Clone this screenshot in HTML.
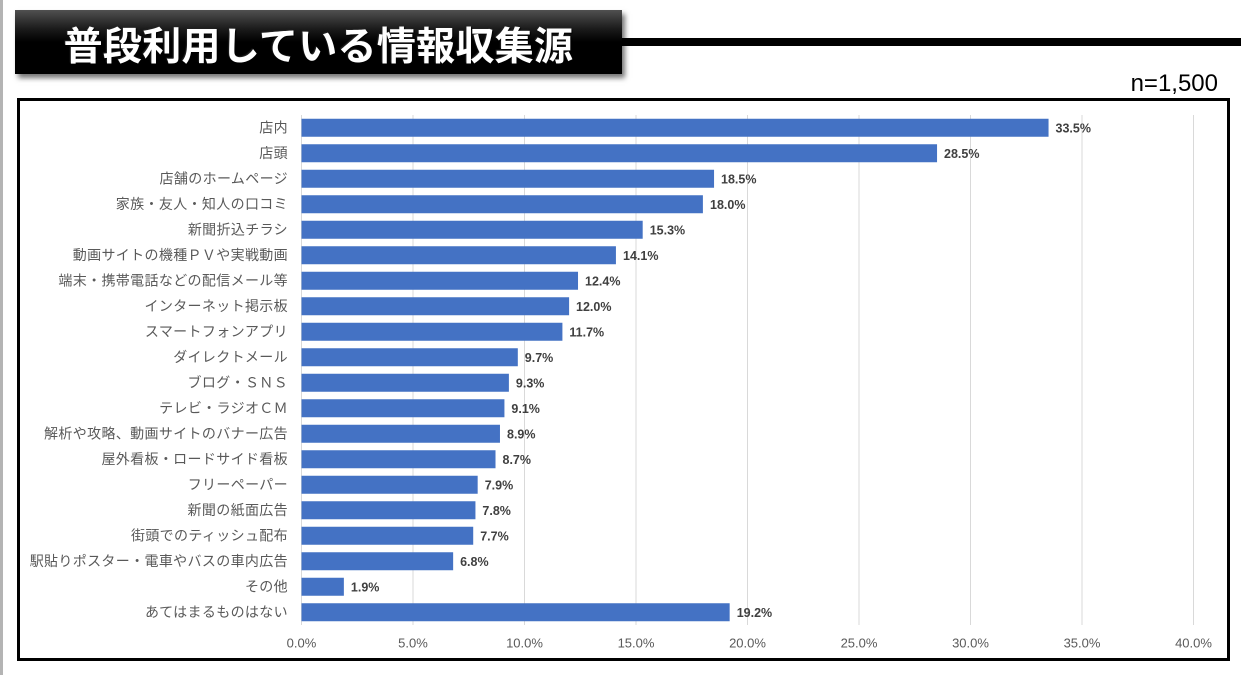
<!DOCTYPE html>
<html>
<head>
<meta charset="utf-8">
<style>
html,body{margin:0;padding:0;background:#fff;}
body{width:1241px;height:675px;position:relative;overflow:hidden;font-family:"Liberation Sans","Noto Sans CJK JP",sans-serif;}
.lbar{position:absolute;left:0;top:0;width:3px;height:675px;background:#b4b4b4;}
.title{position:absolute;left:15px;top:10px;width:607px;height:64px;
background:linear-gradient(to bottom,#505050 0%,#1a1a1a 30%,#000 50%,#000 100%);
box-shadow:3px 4px 5px rgba(0,0,0,0.55);
display:flex;align-items:center;justify-content:center;}
.title span{color:#fff;font-family:"Noto Sans CJK JP","Liberation Sans",sans-serif;font-weight:700;font-size:39px;letter-spacing:0.3px;line-height:1;margin-top:4px;
text-shadow:1px 1px 1px #000,-1px -1px 1px #222;}
.hline{position:absolute;left:622px;top:38px;width:619px;height:8px;background:#000;}
.n{position:absolute;right:23px;top:70px;font-size:24px;color:#000;font-family:"Liberation Sans",sans-serif;}
.frame{position:absolute;left:17px;top:98px;width:1207px;height:557px;border:3px solid #000;background:#fff;}
svg{position:absolute;left:0;top:0;}
.cat{font-family:"Liberation Sans","Noto Sans CJK JP",sans-serif;font-size:14px;fill:#595959;letter-spacing:0.35px;}
.val{font-family:"Liberation Sans",sans-serif;font-size:12.5px;font-weight:bold;fill:#404040;}
.tick{font-family:"Liberation Sans",sans-serif;font-size:13px;fill:#595959;}
</style>
</head>
<body>
<div class="lbar"></div>
<div class="title"><span>普段利用している情報収集源</span></div>
<div class="hline"></div>
<div class="n">n=1,500</div>
<div class="frame"></div>
<svg width="1241" height="675" viewBox="0 0 1241 675">
<g stroke="#d9d9d9" stroke-width="1">
<line x1="301.5" y1="115" x2="301.5" y2="625"/>
<line x1="413" y1="115" x2="413" y2="625"/>
<line x1="524.5" y1="115" x2="524.5" y2="625"/>
<line x1="636" y1="115" x2="636" y2="625"/>
<line x1="747.5" y1="115" x2="747.5" y2="625"/>
<line x1="859" y1="115" x2="859" y2="625"/>
<line x1="970.5" y1="115" x2="970.5" y2="625"/>
<line x1="1082" y1="115" x2="1082" y2="625"/>
<line x1="1193.5" y1="115" x2="1193.5" y2="625"/>
</g>
<g fill="#4472c4">
<rect x="301.5" y="118.75" width="747.05" height="18"/>
<rect x="301.5" y="144.25" width="635.55" height="18"/>
<rect x="301.5" y="169.75" width="412.55" height="18"/>
<rect x="301.5" y="195.25" width="401.4" height="18"/>
<rect x="301.5" y="220.75" width="341.19" height="18"/>
<rect x="301.5" y="246.25" width="314.43" height="18"/>
<rect x="301.5" y="271.75" width="276.52" height="18"/>
<rect x="301.5" y="297.25" width="267.6" height="18"/>
<rect x="301.5" y="322.75" width="260.91" height="18"/>
<rect x="301.5" y="348.25" width="216.31" height="18"/>
<rect x="301.5" y="373.75" width="207.39" height="18"/>
<rect x="301.5" y="399.25" width="202.93" height="18"/>
<rect x="301.5" y="424.75" width="198.47" height="18"/>
<rect x="301.5" y="450.25" width="194.01" height="18"/>
<rect x="301.5" y="475.75" width="176.17" height="18"/>
<rect x="301.5" y="501.25" width="173.94" height="18"/>
<rect x="301.5" y="526.75" width="171.71" height="18"/>
<rect x="301.5" y="552.25" width="151.64" height="18"/>
<rect x="301.5" y="577.75" width="42.37" height="18"/>
<rect x="301.5" y="603.25" width="428.16" height="18"/>
</g>
<g class="cat" text-anchor="end">
<text x="288" y="132.6">店内</text>
<text x="288" y="158.1">店頭</text>
<text x="288" y="183.6">店舗のホームページ</text>
<text x="288" y="209.1">家族・友人・知人の口コミ</text>
<text x="288" y="234.6">新聞折込チラシ</text>
<text x="288" y="260.1">動画サイトの機種ＰＶや実戦動画</text>
<text x="288" y="285.6">端末・携帯電話などの配信メール等</text>
<text x="288" y="311.1">インターネット掲示板</text>
<text x="288" y="336.6">スマートフォンアプリ</text>
<text x="288" y="362.1">ダイレクトメール</text>
<text x="288" y="387.6">ブログ・ＳＮＳ</text>
<text x="288" y="413.1">テレビ・ラジオＣＭ</text>
<text x="288" y="438.6">解析や攻略、動画サイトのバナー広告</text>
<text x="288" y="464.1">屋外看板・ロードサイド看板</text>
<text x="288" y="489.6">フリーペーパー</text>
<text x="288" y="515.1">新聞の紙面広告</text>
<text x="288" y="540.6">街頭でのティッシュ配布</text>
<text x="288" y="566.1">駅貼りポスター・電車やバスの車内広告</text>
<text x="288" y="591.6">その他</text>
<text x="288" y="617.1">あてはまるものはない</text>
</g>
<g class="val">
<text x="1055.5" y="132.3">33.5%</text>
<text x="944" y="157.8">28.5%</text>
<text x="721" y="183.3">18.5%</text>
<text x="710" y="208.8">18.0%</text>
<text x="649.7" y="234.3">15.3%</text>
<text x="623" y="259.8">14.1%</text>
<text x="585" y="285.3">12.4%</text>
<text x="576" y="310.8">12.0%</text>
<text x="569.4" y="336.3">11.7%</text>
<text x="524.8" y="361.8">9.7%</text>
<text x="515.9" y="387.3">9.3%</text>
<text x="511.4" y="412.8">9.1%</text>
<text x="507" y="438.3">8.9%</text>
<text x="502.5" y="463.8">8.7%</text>
<text x="484.7" y="489.3">7.9%</text>
<text x="482.4" y="514.8">7.8%</text>
<text x="480.2" y="540.3">7.7%</text>
<text x="460.1" y="565.8">6.8%</text>
<text x="350.9" y="591.3">1.9%</text>
<text x="736.7" y="616.8">19.2%</text>
</g>
<g class="tick" text-anchor="middle">
<text x="301.5" y="647.5">0.0%</text>
<text x="413" y="647.5">5.0%</text>
<text x="524.5" y="647.5">10.0%</text>
<text x="636" y="647.5">15.0%</text>
<text x="747.5" y="647.5">20.0%</text>
<text x="859" y="647.5">25.0%</text>
<text x="970.5" y="647.5">30.0%</text>
<text x="1082" y="647.5">35.0%</text>
<text x="1193.5" y="647.5">40.0%</text>
</g>
</svg>
</body>
</html>
